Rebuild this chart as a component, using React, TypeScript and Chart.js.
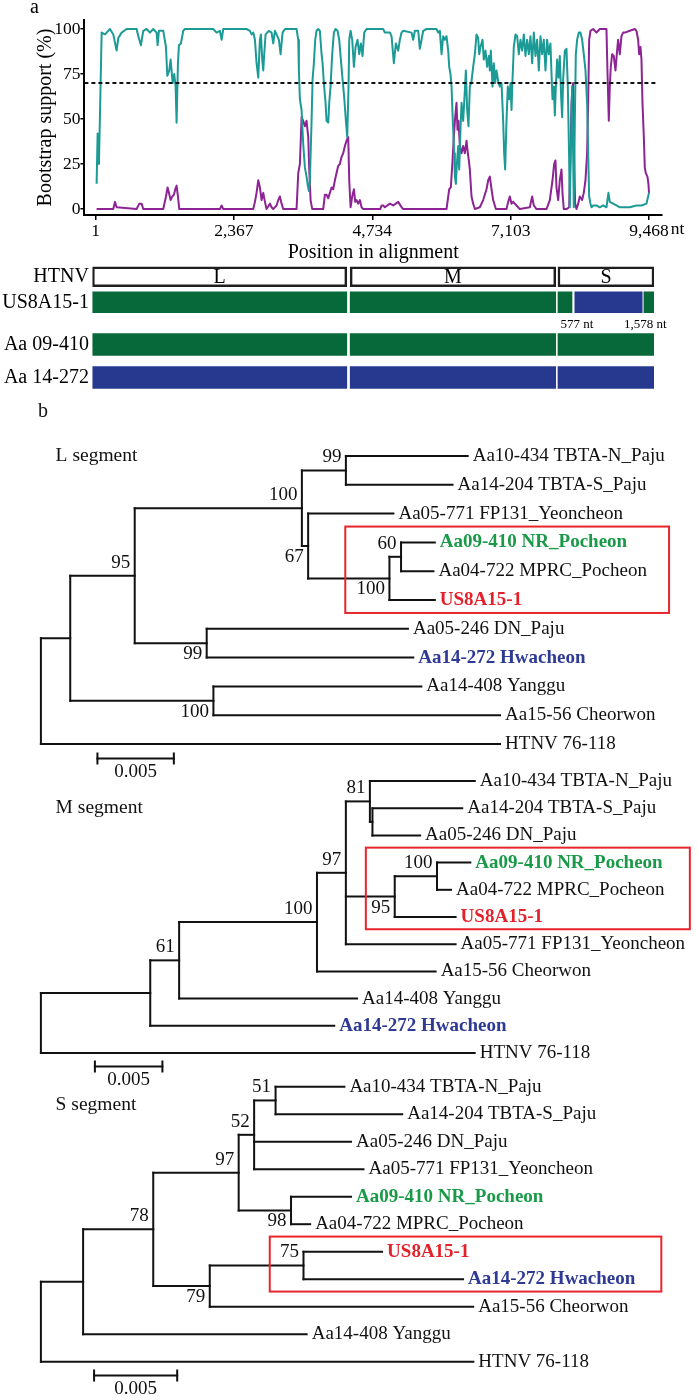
import React, { useEffect, useRef } from 'react';
import { Chart, registerables } from 'chart.js';

Chart.register(...registerables);

const SERIF = '"Liberation Serif", "Times New Roman", Times, serif';
Chart.defaults.font.family = SERIF;
Chart.defaults.color = '#000';

const TEAL = '#1c9a95';
const PURPLE = '#8d2493';
const BAR_GREEN = '#07683a';
const BAR_BLUE = '#27398f';
const TXT_GREEN = '#1a9a48';
const TXT_RED = '#e3212b';
const TXT_BLUE = '#2e3a94';
const BOX_RED = '#e8252d';

// ---------------- Panel a : bootscan ----------------
const xTickValues = [1, 2367, 4734, 7103, 9468];
const yTickValues = [0, 25, 50, 75, 100];
const cutoffValue = 70;
const positionRange = [-190, 9690];
const supportRange = [-3.3, 105];
const cutoffSpan = [-190, 9580];

const tealPos = [19, 36, 59, 105, 162, 247, 304, 361, 390, 447, 532, 703, 732, 777, 817, 874, 931, 988, 1045, 1062, 1085, 1159, 1205, 1228, 1262, 1285, 1319, 1347, 1370, 1387, 1410, 1427, 1461, 1501, 1530, 2014, 2071, 2128, 2157, 2185, 2584, 2641, 2670, 2698, 2727, 2755, 2784, 2812, 2829, 2852, 2869, 2886, 2909, 2938, 2966, 3012, 3040, 3069, 3097, 3137, 3166, 3200, 3240, 3439, 3468, 3479, 3496, 3525, 3553, 3582, 3610, 3627, 3650, 3667, 3696, 3713, 3735, 3758, 3781, 3810, 3838, 3867, 3884, 3906, 3935, 3952, 3981, 3998, 4020, 4049, 4077, 4106, 4140, 4169, 4197, 4226, 4254, 4283, 4306, 4328, 4340, 4363, 4391, 4420, 4448, 4482, 4511, 4539, 4568, 4596, 4636, 4921, 4950, 4990, 5035, 5064, 5103, 5138, 5178, 5206, 5235, 5263, 5406, 5434, 5463, 5520, 5548, 5577, 5605, 5662, 5833, 5862, 5890, 5919, 5947, 5976, 6004, 6033, 6050, 6072, 6090, 6107, 6118, 6135, 6147, 6164, 6181, 6204, 6221, 6243, 6261, 6289, 6318, 6335, 6357, 6380, 6403, 6432, 6460, 6489, 6517, 6546, 6563, 6585, 6620, 6642, 6671, 6699, 6728, 6745, 6762, 6791, 6813, 6836, 6859, 6888, 6916, 6945, 6973, 6990, 7007, 7030, 7053, 7076, 7098, 7116, 7133, 7155, 7184, 7212, 7241, 7269, 7298, 7326, 7355, 7383, 7412, 7440, 7469, 7497, 7526, 7554, 7583, 7611, 7640, 7668, 7697, 7725, 7754, 7782, 7800, 7817, 7839, 7857, 7874, 7896, 7919, 7942, 7965, 7982, 7999, 8028, 8056, 8079, 8102, 8113, 8130, 8153, 8170, 8181, 8199, 8216, 8238, 8267, 8295, 8324, 8352, 8381, 8409, 8427, 8444, 8466, 8484, 8512, 8569, 8626, 8683, 8740, 8774, 8797, 8854, 8911, 8968, 9025, 9139, 9253, 9339, 9424, 9468];
const tealVal = [14, 42, 25, 98, 97, 100, 97, 88, 95, 98, 100, 100, 96, 91, 99, 100, 98, 100, 98, 91, 99, 99, 90, 74, 77, 83, 70, 75, 68, 48, 81, 91, 92, 99, 100, 100, 98, 99, 94, 100, 100, 99, 97, 98, 94, 81, 73, 94, 97, 83, 77, 86, 97, 98, 99, 98, 92, 99, 97, 94, 86, 98, 100, 100, 94, 77, 61, 55, 36, 23, 18, 14, 10, 16, 49, 72, 81, 94, 99, 100, 99, 86, 81, 70, 59, 49, 48, 59, 68, 86, 98, 100, 99, 94, 83, 72, 62, 49, 40, 68, 94, 99, 94, 79, 90, 94, 86, 92, 85, 98, 100, 100, 98, 98, 98, 96, 81, 92, 88, 94, 98, 99, 98, 94, 99, 99, 89, 94, 99, 100, 100, 98, 99, 86, 96, 94, 96, 88, 79, 75, 68, 53, 44, 31, 18, 14, 25, 35, 22, 44, 59, 49, 66, 77, 55, 46, 68, 71, 79, 86, 97, 95, 86, 90, 94, 83, 88, 79, 85, 77, 88, 68, 81, 70, 77, 71, 68, 70, 49, 31, 22, 49, 68, 61, 70, 55, 72, 90, 97, 96, 86, 94, 88, 97, 85, 94, 86, 96, 81, 98, 85, 94, 77, 96, 86, 94, 77, 94, 86, 92, 75, 61, 68, 52, 68, 83, 73, 85, 62, 51, 72, 88, 89, 68, 27, 1, 31, 68, 31, 1, 49, 86, 94, 98, 98, 94, 86, 77, 59, 31, 7, 3, 1, 2, 2, 1, 2, 1, 9, 4, 3, 2, 1, 1, 1, 2, 2, 3, 9];

const purplePos = [19, 304, 333, 361, 703, 749, 789, 817, 1159, 1205, 1233, 1256, 1285, 1313, 1342, 1364, 1387, 1410, 1433, 2128, 2157, 2185, 2698, 2727, 2755, 2784, 2812, 2841, 2869, 2898, 2926, 2983, 3012, 3040, 3097, 3126, 3154, 3183, 3211, 3439, 3468, 3496, 3525, 3553, 3582, 3610, 3639, 3656, 3679, 3707, 3895, 3924, 3952, 3981, 4009, 4038, 4066, 4095, 4123, 4152, 4180, 4209, 4237, 4266, 4294, 4323, 4340, 4363, 4391, 4420, 4443, 4465, 4494, 4522, 4551, 4579, 4870, 4893, 4921, 4950, 5035, 5092, 5178, 5235, 5263, 6004, 6050, 6078, 6107, 6129, 6152, 6175, 6192, 6209, 6232, 6261, 6289, 6318, 6346, 6369, 6386, 6403, 6432, 6460, 6489, 6574, 6631, 6688, 6717, 6745, 6774, 6802, 6848, 7030, 7059, 7087, 7116, 7144, 7201, 7258, 7429, 7469, 7497, 7543, 7714, 7771, 7817, 7845, 7868, 7885, 7914, 7942, 7971, 7988, 8010, 8056, 8102, 8125, 8142, 8159, 8170, 8187, 8204, 8227, 8256, 8284, 8324, 8352, 8381, 8409, 8427, 8444, 8466, 8512, 8569, 8626, 8683, 8740, 8757, 8780, 8797, 8814, 8837, 8865, 8894, 8922, 8939, 8968, 8997, 9025, 9054, 9139, 9225, 9253, 9282, 9299, 9322, 9339, 9356, 9379, 9396, 9413, 9441, 9458, 9468];
const purpleVal = [0, 0, 4, 1, 0, 3, 3, 0, 0, 7, 12, 9, 5, 7, 8, 11, 13, 7, 0, 0, 2, 0, 0, 4, 9, 16, 12, 5, 9, 4, 0, 3, 1, 0, 2, 5, 7, 3, 0, 0, 20, 25, 51, 49, 46, 49, 40, 22, 5, 0, 0, 8, 8, 6, 9, 12, 11, 16, 20, 24, 25, 29, 31, 35, 38, 40, 16, 1, 7, 11, 4, 5, 3, 5, 1, 0, 0, 2, 2, 1, 3, 2, 4, 1, 0, 0, 11, 12, 27, 40, 51, 59, 44, 49, 35, 31, 35, 31, 38, 31, 27, 22, 7, 3, 0, 1, 5, 11, 16, 18, 11, 5, 0, 0, 4, 7, 3, 4, 2, 0, 1, 7, 2, 0, 0, 5, 16, 25, 27, 12, 5, 16, 22, 9, 0, 0, 1, 31, 59, 68, 70, 31, 3, 0, 3, 7, 5, 9, 16, 31, 59, 94, 99, 100, 98, 100, 100, 100, 77, 49, 68, 79, 86, 85, 77, 88, 94, 86, 96, 98, 98, 99, 100, 99, 94, 86, 90, 83, 59, 40, 23, 20, 18, 14, 9];

// ---------------- Panel a : genome schematic ----------------
const segmentNames = ['L', 'M', 'S'];
const segmentStart = [0, 45.9, 82.9];
const segmentEnd = [45.3, 82.5, 100];
const topRows = ['HTNV', 'US8A15-1'];
const bottomRows = ['Aa 09-410', 'Aa 14-272'];
const bottomRowColors = [BAR_GREEN, BAR_BLUE];
const us8SStart = [82.9, 85.9, 98.2];
const us8SEnd = [85.4, 97.9, 100];
const us8SOrigin = ['Aa 09-410', 'Aa 14-272', 'Aa 09-410'];
const breakpointLabels = ['577 nt', '1,578 nt'];

// ---------------- Panel b : trees ----------------
const strains = [
  'Aa10-434 TBTA-N_Paju',
  'Aa14-204 TBTA-S_Paju',
  'Aa05-771 FP131_Yeoncheon',
  'Aa09-410 NR_Pocheon',
  'Aa04-722 MPRC_Pocheon',
  'US8A15-1',
  'Aa05-246 DN_Paju',
  'Aa14-272 Hwacheon',
  'Aa14-408 Yanggu',
  'Aa15-56 Cheorwon',
  'HTNV 76-118',
];
const strainColors = ['#111', '#111', '#111', TXT_GREEN, '#111', TXT_RED, '#111', TXT_BLUE, '#111', '#111', '#111'];
const strainBold = [false, false, false, true, false, true, false, true, false, false, false];

const treeTitles = ['L segment', 'M segment', 'S segment'];
const treeNewick = [
  '(((((0:0.00797,1:0.00698)99:0.00288,(2:0.00558,((3:0.00221,4:0.00212)60:0.00076,5:0.00297)100:0.00532)67:0.00041)100:0.01094,(6:0.01317,7:0.01352)99:0.00471)95:0.00422,(8:0.01361,9:0.01876)100:0.00937):0.00192,10:0.03005);',
  '((((((0:0.00777,(1:0.00665,6:0.00353):0.00019)81:0.00178,((3:0.00247,4:0.00104)100:0.00313,5:0.00451)95:0.00362,2:0.00813)97:0.00214,9:0.00879)100:0.01021,8:0.01318)61:0.00214,7:0.01363):0.00810,10:0.03213);',
  '((((((0:0.00414,1:0.00762)51:0.00129,6:0.00583,2:0.00658)52:0.00093,(3:0.00361,4:0.00115)98:0.00315)97:0.00514,((5:0.00473,7:0.00960)75:0.00564,9:0.01585)79:0.00340)78:0.00422,8:0.01345):0.00254,10:0.02602);',
];
const scaleBarLength = 0.005;
const scaleBarStart = [0.0037, 0.004, 0.0032];
const highlightTips = [[3, 4, 5], [3, 4, 5], [5, 7]];
const highlightX0 = [0.01992, 0.02407, 0.01377];
const highlightX1 = [0.04111, 0.04807, 0.03733];

// layout of the three tree canvases (page pixels)
const treeTop = [395, 765, 1070];
const treeHeight = [395, 330, 330];
const treeRow0 = [456, 781, 1086.7];
const treeRowPx = [28.8, 27.2, 27.5];
const treePxPerUnit = [15280, 13500, 16620];
const treeRootPx = 40.9;
const treeTitleRow = [0, 1, 0.665];
const scaleBarRow = 10.5;

// ---------------- helpers ----------------
type TNode = { name: string; label: string; length: number; children: TNode[]; x: number; y: number; parent: TNode | null; first: boolean };

function parseNewick(s: string): TNode {
  let i = 0;
  const token = () => {
    let t = '';
    while (i < s.length && '(),:;'.indexOf(s[i]) < 0) t += s[i++];
    return t.trim();
  };
  const node = (): TNode => {
    const n: TNode = { name: '', label: '', length: 0, children: [], x: 0, y: 0, parent: null, first: true };
    if (s[i] === '(') {
      i++;
      n.children.push(node());
      while (s[i] === ',') {
        i++;
        n.children.push(node());
      }
      i++;
      n.label = token();
    } else {
      n.name = token();
    }
    if (s[i] === ':') {
      i++;
      n.length = parseFloat(token());
    }
    return n;
  };
  return node();
}

function layoutTree(root: TNode) {
  const all: TNode[] = [];
  let row = 0;
  const walk = (n: TNode, x: number, parent: TNode | null, first: boolean) => {
    n.x = x;
    n.parent = parent;
    n.first = first;
    all.push(n);
    if (n.children.length) {
      n.children.forEach((c, k) => walk(c, x + c.length, n, k === 0));
      n.y = (n.children[0].y + n.children[n.children.length - 1].y) / 2;
    } else {
      n.y = row++;
    }
  };
  walk(root, 0, null, true);
  return all;
}

function ChartCanvas({ top, height, makeConfig }: { top: number; height: number; makeConfig: () => any }) {
  const ref = useRef<HTMLCanvasElement | null>(null);
  useEffect(() => {
    if (!ref.current) return;
    const chart = new Chart(ref.current, makeConfig());
    return () => chart.destroy();
  }, []);
  return (
    <canvas
      ref={ref}
      width={697}
      height={height}
      style={{ position: 'absolute', left: 0, top, width: 697, height, display: 'block' }}
    />
  );
}

// ---------------- configs ----------------
function bootscanConfig() {
  const xy = (xs: number[], ys: number[]) => xs.map((x, i) => ({ x, y: ys[i] }));
  const tickFont = { family: SERIF, size: 17.5 };
  const titleFont = { family: SERIF, size: 20 };
  const setTicks = (vals: number[]) => (s: any) => {
    s.ticks = vals.map((v) => ({ value: v }));
  };
  const textPlugin = {
    id: 'bootscanText',
    afterDraw(chart: any) {
      const ctx = chart.ctx;
      const xs = chart.scales.x;
      ctx.save();
      ctx.fillStyle = '#000';
      ctx.font = `17.5px ${SERIF}`;
      const last = xTickValues[xTickValues.length - 1];
      const px = xs.getPixelForValue(last);
      const w = ctx.measureText(last.toLocaleString('en-US')).width;
      ctx.textAlign = 'left';
      ctx.textBaseline = 'top';
      ctx.fillText('nt', px + w / 2 + 2, xs.top + 6);
      ctx.font = `20px ${SERIF}`;
      ctx.textBaseline = 'alphabetic';
      ctx.fillText('a', 30, 13);
      ctx.restore();
    },
  };
  return {
    type: 'line',
    data: {
      datasets: [
        { label: '70% cut-off', data: xy(cutoffSpan, [cutoffValue, cutoffValue]), borderColor: '#111', borderWidth: 2, borderDash: [4, 3], pointRadius: 0 },
        { label: 'Aa 09-410', data: xy(tealPos, tealVal), borderColor: TEAL, borderWidth: 2, pointRadius: 0 },
        { label: 'Aa 14-272', data: xy(purplePos, purpleVal), borderColor: PURPLE, borderWidth: 2, pointRadius: 0 },
      ],
    },
    options: {
      animation: false,
      responsive: false,
      layout: { padding: { top: 20, right: 35, left: 0, bottom: 0 } },
      plugins: { legend: { display: false }, tooltip: { enabled: false } },
      elements: { line: { tension: 0, borderJoinStyle: 'round' }, point: { radius: 0 } },
      scales: {
        x: {
          type: 'linear',
          min: positionRange[0],
          max: positionRange[1],
          afterBuildTicks: setTicks(xTickValues),
          afterFit: (s: any) => {
            s.height = 55;
          },
          ticks: { autoSkip: false, maxRotation: 0, padding: 1, font: tickFont, color: '#000', callback: (v: any) => Number(v).toLocaleString('en-US') },
          grid: { display: true, drawOnChartArea: false, drawTicks: true, tickLength: 5, color: '#000', lineWidth: 1.5 },
          border: { display: true, color: '#000', width: 2 },
          title: { display: true, text: 'Position in alignment', font: titleFont, color: '#000', padding: { top: 0, bottom: 5 } },
        },
        y: {
          type: 'linear',
          min: supportRange[0],
          max: supportRange[1],
          afterBuildTicks: setTicks(yTickValues),
          afterFit: (s: any) => {
            s.width = 84.4;
          },
          ticks: { padding: 0, font: tickFont, color: '#000' },
          grid: { display: true, drawOnChartArea: false, drawTicks: true, tickLength: 4, color: '#000', lineWidth: 1.5 },
          border: { display: true, color: '#000', width: 2 },
          title: { display: true, text: 'Bootstrap support (%)', font: titleFont, color: '#000', padding: { top: 34, bottom: 0 } },
        },
      },
    },
    plugins: [textPlugin],
  };
}

function genomeScales() {
  return {
    x: { type: 'linear', min: 0, max: 100, display: false },
    y: {
      type: 'category',
      afterFit: (s: any) => {
        s.width = 92.4;
        s.paddingTop = 0;
        s.paddingBottom = 0;
      },
      ticks: { autoSkip: false, padding: 3.5, font: { family: SERIF, size: 20 }, color: '#000' },
      grid: { display: false, drawTicks: false },
      border: { display: false },
    },
  };
}

function genomeTopConfig() {
  const datasets: any[] = [];
  segmentNames.forEach((name, i) =>
    datasets.push({
      label: 'HTNV ' + name,
      data: [[segmentStart[i], segmentEnd[i]], null],
      backgroundColor: '#fff',
      borderColor: '#1e1e1e',
      borderWidth: 2.5,
      borderSkipped: false,
      barThickness: 20,
      grouped: false,
    })
  );
  [0, 1].forEach((i) =>
    datasets.push({
      label: 'US8A15-1 ' + segmentNames[i],
      data: [null, [segmentStart[i], segmentEnd[i]]],
      backgroundColor: BAR_GREEN,
      borderWidth: 0,
      barThickness: 21,
      grouped: false,
    })
  );
  us8SStart.forEach((s, j) =>
    datasets.push({
      label: 'US8A15-1 S ' + us8SOrigin[j],
      data: [null, [s, us8SEnd[j]]],
      backgroundColor: us8SOrigin[j] === 'Aa 14-272' ? BAR_BLUE : BAR_GREEN,
      borderWidth: 0,
      barThickness: 21,
      grouped: false,
    })
  );
  const blueIndex = 3 + 2 + us8SOrigin.indexOf('Aa 14-272');
  const plugin = {
    id: 'genomeText',
    afterDatasetsDraw(chart: any) {
      const ctx = chart.ctx;
      ctx.save();
      ctx.fillStyle = '#000';
      ctx.font = `20px ${SERIF}`;
      ctx.textAlign = 'center';
      ctx.textBaseline = 'middle';
      segmentNames.forEach((name, i) => {
        const el = chart.getDatasetMeta(i).data[0];
        ctx.fillText(name, (el.x + el.base) / 2, el.y + 1);
      });
      const b = chart.getDatasetMeta(blueIndex).data[1];
      const left = Math.min(b.x, b.base);
      const right = Math.max(b.x, b.base);
      const y = b.y + b.height / 2 + 12;
      ctx.font = `13px ${SERIF}`;
      ctx.fillText(breakpointLabels[0], left + 2, y);
      ctx.fillText(breakpointLabels[1], right + 3, y);
      ctx.restore();
    },
  };
  return {
    type: 'bar',
    data: { labels: topRows, datasets },
    options: {
      indexAxis: 'y',
      animation: false,
      responsive: false,
      layout: { padding: { top: 0, right: 43, left: 0, bottom: 17 } },
      plugins: { legend: { display: false }, tooltip: { enabled: false } },
      scales: genomeScales(),
    },
    plugins: [plugin],
  };
}

function genomeBottomConfig() {
  const datasets = segmentNames.map((name, i) => ({
    label: name,
    data: bottomRows.map(() => [segmentStart[i], segmentEnd[i]]),
    backgroundColor: bottomRowColors,
    borderWidth: 0,
    barThickness: 22,
    grouped: false,
  }));
  return {
    type: 'bar',
    data: { labels: bottomRows, datasets },
    options: {
      indexAxis: 'y',
      animation: false,
      responsive: false,
      layout: { padding: { top: 0, right: 43, left: 0, bottom: 0 } },
      plugins: { legend: { display: false }, tooltip: { enabled: false } },
      scales: genomeScales(),
    },
  };
}

function treeConfig(t: number, panelLabel?: string) {
  const root = parseNewick(treeNewick[t]);
  const nodes = layoutTree(root);
  const rowPx = treeRowPx[t];
  const seg = (x1: number, y1: number, x2: number, y2: number, color = '#111', w = 2) => ({
    data: [
      { x: x1, y: y1 },
      { x: x2, y: y2 },
    ],
    showLine: true,
    borderColor: color,
    borderWidth: w,
    pointRadius: 0,
    borderCapStyle: 'square',
    clip: false,
  });
  const datasets: any[] = [];
  nodes.forEach((n) => {
    if (n.parent) datasets.push(seg(n.parent.x, n.y, n.x, n.y));
    if (n.children.length) datasets.push(seg(n.x, n.children[0].y, n.x, n.children[n.children.length - 1].y));
  });
  const sb0 = scaleBarStart[t];
  const sb1 = sb0 + scaleBarLength;
  const tick = 5 / rowPx;
  datasets.push(seg(sb0, scaleBarRow, sb1, scaleBarRow));
  datasets.push(seg(sb0, scaleBarRow - tick, sb0, scaleBarRow + tick));
  datasets.push(seg(sb1, scaleBarRow - tick, sb1, scaleBarRow + tick));

  const xMin = -treeRootPx / treePxPerUnit[t];
  const xMax = xMin + 697 / treePxPerUnit[t];
  const yMin = (treeTop[t] - treeRow0[t]) / rowPx;
  const yMax = yMin + treeHeight[t] / rowPx;

  const plugin = {
    id: 'treeText',
    afterDatasetsDraw(chart: any) {
      const ctx = chart.ctx;
      const xs = chart.scales.x;
      const ys = chart.scales.y;
      ctx.save();
      // highlight box
      const hl = highlightTips[t];
      const tipRows = nodes.filter((n) => !n.children.length && hl.indexOf(parseInt(n.name, 10)) >= 0).map((n) => n.y);
      const r0 = Math.min(...tipRows) - 0.55;
      const r1 = Math.max(...tipRows) + 0.45;
      ctx.strokeStyle = BOX_RED;
      ctx.lineWidth = 2;
      const bx0 = xs.getPixelForValue(highlightX0[t]);
      const bx1 = xs.getPixelForValue(highlightX1[t]);
      const by0 = ys.getPixelForValue(r0);
      const by1 = ys.getPixelForValue(r1);
      ctx.strokeRect(bx0, by0, bx1 - bx0, by1 - by0);
      // tips
      ctx.textBaseline = 'middle';
      nodes.forEach((n) => {
        const px = xs.getPixelForValue(n.x);
        const py = ys.getPixelForValue(n.y);
        if (!n.children.length) {
          const idx = parseInt(n.name, 10);
          ctx.textAlign = 'left';
          ctx.fillStyle = strainColors[idx];
          ctx.font = `${strainBold[idx] ? 'bold ' : ''}19px ${SERIF}`;
          ctx.fillText(strains[idx], px + 5, py);
        } else if (n.label) {
          ctx.textAlign = 'right';
          ctx.fillStyle = '#111';
          ctx.font = `19px ${SERIF}`;
          ctx.fillText(n.label, px - 4.5, py + (n.first ? -13 : 11));
        }
      });
      // title
      ctx.textAlign = 'left';
      ctx.fillStyle = '#111';
      ctx.font = `19.5px ${SERIF}`;
      ctx.fillText(treeTitles[t], 55.6, ys.getPixelForValue(treeTitleRow[t]));
      // scale label
      ctx.textAlign = 'center';
      ctx.font = `19px ${SERIF}`;
      ctx.fillText(String(scaleBarLength), (xs.getPixelForValue(sb0) + xs.getPixelForValue(sb1)) / 2, ys.getPixelForValue(scaleBarRow) + 13.4);
      if (panelLabel) {
        ctx.textAlign = 'left';
        ctx.textBaseline = 'alphabetic';
        ctx.font = `20px ${SERIF}`;
        ctx.fillText(panelLabel, 38, 417 - treeTop[t]);
      }
      ctx.restore();
    },
  };

  return {
    type: 'scatter',
    data: { datasets },
    options: {
      animation: false,
      responsive: false,
      layout: { padding: 0 },
      plugins: { legend: { display: false }, tooltip: { enabled: false } },
      scales: {
        x: { type: 'linear', min: xMin, max: xMax, display: false },
        y: { type: 'linear', min: yMin, max: yMax, reverse: true, display: false },
      },
    },
    plugins: [plugin],
  };
}

export default function App() {
  return (
    <div style={{ position: 'absolute', left: 0, top: 0, width: 697, height: 1400, background: '#fff', overflow: 'hidden' }}>
      <ChartCanvas top={0} height={270} makeConfig={bootscanConfig} />
      <ChartCanvas top={264} height={68} makeConfig={genomeTopConfig} />
      <ChartCanvas top={328} height={66} makeConfig={genomeBottomConfig} />
      <ChartCanvas top={treeTop[0]} height={treeHeight[0]} makeConfig={() => treeConfig(0, 'b')} />
      <ChartCanvas top={treeTop[1]} height={treeHeight[1]} makeConfig={() => treeConfig(1)} />
      <ChartCanvas top={treeTop[2]} height={treeHeight[2]} makeConfig={() => treeConfig(2)} />
    </div>
  );
}
